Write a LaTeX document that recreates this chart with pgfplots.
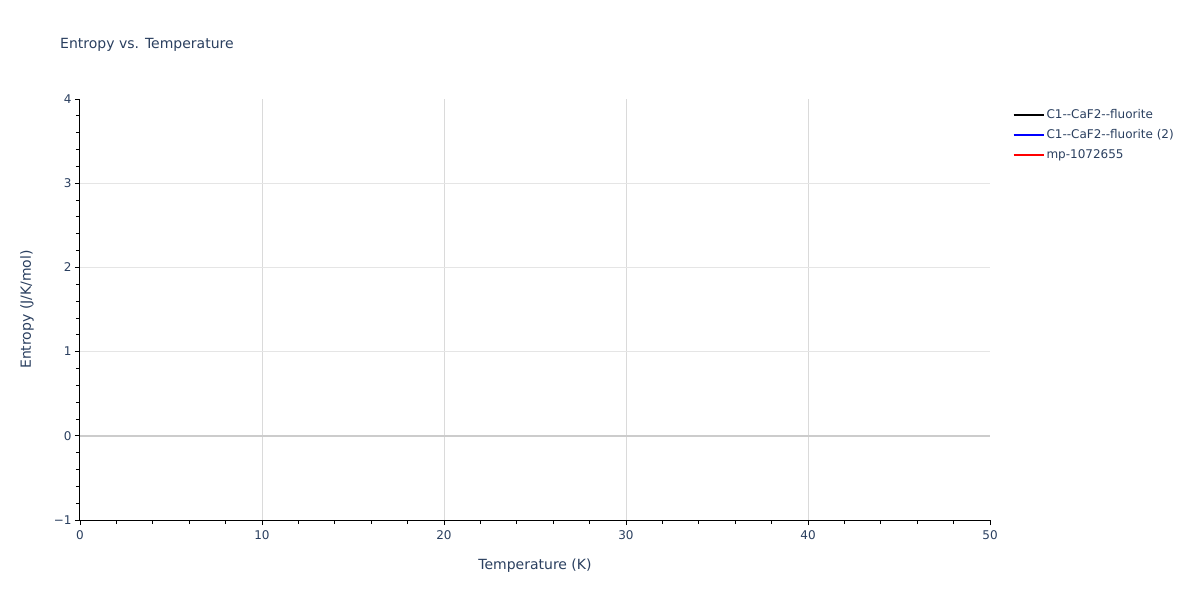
\documentclass[border=0pt]{standalone}
\usepackage{fontspec}
\setmainfont{DejaVu Sans}
\usepackage{pgfplots}
\pgfplotsset{compat=1.18}
\definecolor{txt}{HTML}{2A3F5F}
\definecolor{gridc}{HTML}{E5E5E5}
\definecolor{vgridc}{HTML}{DADADA}
\definecolor{zeroc}{HTML}{CCCCCC}
\begin{document}
\begin{tikzpicture}
\path[use as bounding box] (0pt,0pt) rectangle (1200pt,600pt);
\node[anchor=west, text=txt, font=\fontsize{14}{16}\selectfont, inner sep=0pt] at (60pt,555pt) {Entropy vs. Temperature};
% grid lines inside the plot area only
\begin{axis}[
  at={(80pt,80pt)}, anchor=south west,
  scale only axis, width=910pt, height=421pt,
  xmin=0, xmax=50, ymin=-1, ymax=4,
  axis line style={draw=none},
  major tick length=0pt,
  xtick={10,20,30,40}, ytick={1,2,3},
  xticklabels={}, yticklabels={},
  extra y ticks={0}, extra y tick labels={},
  xmajorgrids, ymajorgrids,
  x grid style={vgridc, line width=1pt},
  y grid style={gridc, line width=1pt},
  extra y tick style={grid=major, y grid style={zeroc, line width=2pt}},
]
\end{axis}
\begin{axis}[
  at={(80pt,80pt)}, anchor=south west,
  scale only axis, width=910pt, height=421pt,
  xmin=0, xmax=50, ymin=-1, ymax=4,
  xtick={0,10,...,50}, ytick={-1,0,...,4},
  yticklabels={−1,0,1,2,3,4},
  minor x tick num=4, minor y tick num=4,
  tick align=outside, major tick length=5pt, minor tick length=4pt,
  tick style={black, line width=0.8pt},
  axis x line*=bottom, axis y line*=left,
  axis line style={-, black, line width=1pt},
  ticklabel style={text=txt, font=\fontsize{12}{14}\selectfont},
  xticklabel style={yshift=-2pt},
  /pgf/number format/assume math mode=true,
  xlabel={Temperature (K)}, ylabel={Entropy (J/K/mol)},
  label style={text=txt, font=\fontsize{14}{16}\selectfont},
  xlabel style={yshift=-12pt},
  ylabel style={yshift=13pt},
  legend style={at={(1.025,0.98)}, anchor=north west, draw=none, fill=none,
    font=\fontsize{12}{14}\selectfont, text=txt, row sep=5.5pt,
    legend cell align=left, inner sep=0pt},
  legend image code/.code={\draw[#1, line width=1.6pt] (0pt,0pt) -- (30pt,0pt);},
]
\addlegendimage{black}
\addlegendentry{C1-{}-CaF2-{}-fluorite}
\addlegendimage{blue}
\addlegendentry{C1-{}-CaF2-{}-fluorite (2)}
\addlegendimage{red}
\addlegendentry{mp-1072655}
\end{axis}
\end{tikzpicture}
\end{document}
